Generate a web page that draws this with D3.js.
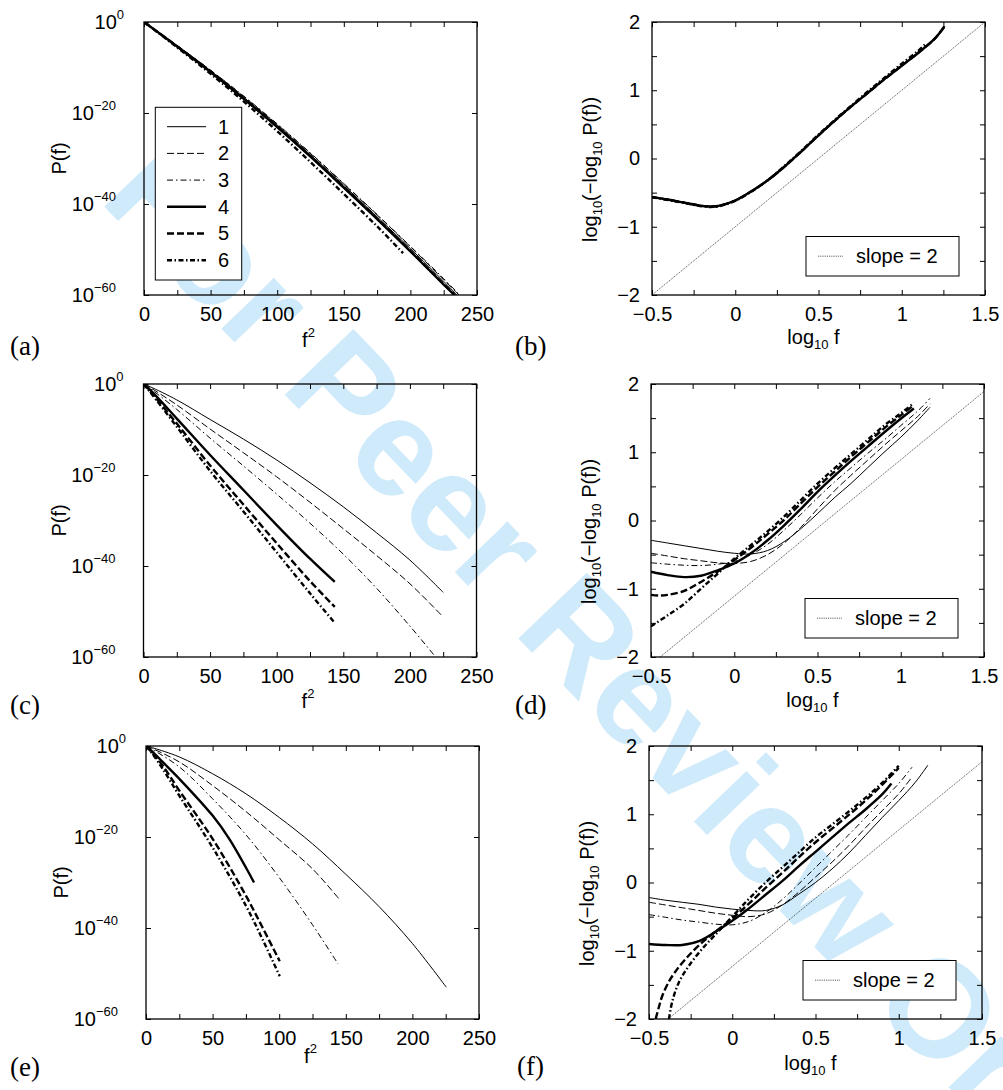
<!DOCTYPE html>
<html>
<head>
<meta charset="utf-8">
<script src="https://cdn.jsdelivr.net/npm/d3@7/dist/d3.min.js"></script>
<style>
  body { margin: 0; background: #fff; }
  svg text { font-family: "Liberation Sans", Arial, Helvetica, sans-serif; fill: #000; }
  .axis text { font-size: 20px; font-family: "Liberation Sans", Arial, Helvetica, sans-serif; }
  .axis line { stroke: #000; stroke-width: 1; }
  .plabel { font-family: "Liberation Serif", "Times New Roman", serif; font-size: 27px; }
  .watermark { font-family: "Liberation Sans", Arial, sans-serif; font-weight: bold; font-size: 138px; fill: #cfeafa !important; }
</style>
</head>
<body>
<svg id="chart" width="1003" height="1090"></svg>
<script>
// series labels used in the legend of panel (a)
const seriesNames = ["1", "2", "3", "4", "5", "6"];

// panel (a): [f^2, log10 P(f)]
const panelA = [
  [[0,0],[25,-5.3],[50,-10.8],[75,-16.6],[100,-22.7],[125,-29.2],[150,-35.9],[175,-42.8],[200,-49.8],[225,-57.0],[235,-60]],
  [[0,0],[25,-5.2],[50,-10.6],[75,-16.4],[100,-22.5],[125,-28.9],[150,-35.6],[175,-42.4],[200,-49.4],[225,-56.6],[236.5,-60]],
  [[0,0],[25,-5.2],[50,-10.6],[75,-16.3],[100,-22.4],[125,-28.8],[150,-35.5],[175,-42.3],[200,-49.3],[225,-56.4],[237,-60]],
  [[0,0],[25,-5.4],[50,-11.0],[75,-16.9],[100,-23.1],[125,-29.6],[150,-36.4],[175,-43.3],[200,-50.4],[225,-57.7],[233,-60]],
  [[0,0],[25,-5.4],[50,-11.0],[75,-16.9],[100,-23.0],[125,-29.5],[150,-36.3],[175,-43.2],[200,-50.3],[225,-57.6],[233.5,-60]],
  [[0,0],[25,-5.6],[50,-11.4],[75,-17.5],[100,-24.0],[125,-30.8],[150,-37.8],[175,-44.9],[194.5,-50.8]]
];

// panel (b): [log10 f, log10(-log10 P(f))]
const panelB = [
  [[-0.5,-0.56],[-0.4,-0.6],[-0.3,-0.645],[-0.2,-0.69],[-0.15,-0.7],[-0.1,-0.69],[0,-0.61],[0.1,-0.47],[0.2,-0.31],[0.3,-0.11],[0.4,0.11],[0.5,0.34],[0.6,0.56],[0.7,0.77],[0.8,0.97],[0.9,1.17],[1.0,1.36],[1.1,1.55],[1.2,1.76],[1.26,1.94]],
  [[-0.5,-0.56],[-0.4,-0.6],[-0.3,-0.645],[-0.2,-0.69],[-0.15,-0.7],[-0.1,-0.69],[0,-0.61],[0.1,-0.47],[0.2,-0.31],[0.3,-0.11],[0.4,0.11],[0.5,0.34],[0.6,0.56],[0.7,0.77],[0.8,0.97],[0.9,1.17],[1.0,1.36],[1.1,1.56],[1.2,1.77],[1.26,1.95]],
  [[-0.5,-0.56],[-0.4,-0.6],[-0.3,-0.645],[-0.2,-0.69],[-0.15,-0.7],[-0.1,-0.69],[0,-0.61],[0.1,-0.47],[0.2,-0.31],[0.3,-0.11],[0.4,0.11],[0.5,0.34],[0.6,0.56],[0.7,0.77],[0.8,0.97],[0.9,1.17],[1.0,1.36],[1.1,1.56],[1.2,1.77],[1.26,1.95]],
  [[-0.5,-0.565],[-0.4,-0.605],[-0.3,-0.65],[-0.2,-0.695],[-0.15,-0.705],[-0.1,-0.695],[0,-0.615],[0.1,-0.475],[0.2,-0.31],[0.3,-0.11],[0.4,0.11],[0.5,0.34],[0.6,0.56],[0.7,0.77],[0.8,0.97],[0.9,1.17],[1.0,1.36],[1.1,1.55],[1.2,1.76],[1.255,1.93]],
  [[-0.5,-0.565],[-0.4,-0.605],[-0.3,-0.65],[-0.2,-0.695],[-0.15,-0.705],[-0.1,-0.695],[0,-0.615],[0.1,-0.475],[0.2,-0.31],[0.3,-0.11],[0.4,0.11],[0.5,0.34],[0.6,0.56],[0.7,0.77],[0.8,0.97],[0.9,1.17],[1.0,1.36],[1.1,1.55],[1.2,1.76],[1.255,1.93]],
  [[-0.5,-0.57],[-0.4,-0.61],[-0.3,-0.655],[-0.2,-0.7],[-0.15,-0.71],[-0.1,-0.7],[0,-0.62],[0.1,-0.48],[0.2,-0.31],[0.3,-0.1],[0.4,0.12],[0.5,0.35],[0.6,0.57],[0.7,0.78],[0.8,0.99],[0.9,1.19],[1.0,1.39],[1.1,1.58],[1.144,1.68]]
];

// panel (c): [f^2, log10 P(f)]
const panelC = [
  [[0,0],[5,-0.6],[25,-3.5],[50,-7.8],[75,-12.1],[100,-16.7],[125,-21.7],[150,-27.0],[175,-32.7],[200,-38.7],[225,-45.8]],
  [[0,0],[5,-0.8],[25,-4.6],[50,-9.9],[75,-15.1],[100,-20.4],[125,-26.0],[150,-31.8],[175,-37.7],[200,-43.9],[225,-51.2]],
  [[0,0],[5,-1.0],[25,-5.6],[50,-11.9],[75,-18.0],[100,-24.2],[125,-30.6],[150,-37.4],[175,-44.9],[200,-53.2],[219.3,-60]],
  [[0,0],[5,-1.3],[25,-7.6],[50,-15.6],[75,-23.3],[100,-31.0],[125,-38.4],[143.6,-43.5]],
  [[0,0],[5,-1.6],[25,-8.7],[50,-17.9],[75,-26.5],[100,-35.0],[125,-43.3],[143.6,-49.0]],
  [[0,0],[5,-1.8],[25,-9.4],[50,-19.1],[75,-28.0],[100,-37.0],[125,-46.0],[143.6,-52.5]]
];

// panel (d): [log10 f, log10(-log10 P(f))]
const panelD = [
  [[-0.5,-0.29],[-0.4,-0.33],[-0.3,-0.37],[-0.2,-0.41],[-0.1,-0.45],[0,-0.48],[0.1,-0.49],[0.2,-0.44],[0.3,-0.31],[0.4,-0.12],[0.5,0.1],[0.6,0.33],[0.7,0.54],[0.8,0.77],[0.9,1.0],[1.0,1.22],[1.1,1.46],[1.176,1.66]],
  [[-0.5,-0.48],[-0.4,-0.52],[-0.3,-0.56],[-0.2,-0.59],[-0.1,-0.62],[0,-0.63],[0.1,-0.6],[0.2,-0.5],[0.3,-0.33],[0.4,-0.1],[0.5,0.17],[0.6,0.43],[0.7,0.66],[0.8,0.88],[0.9,1.1],[1.0,1.31],[1.1,1.52],[1.176,1.71]],
  [[-0.5,-0.62],[-0.4,-0.64],[-0.3,-0.655],[-0.2,-0.66],[-0.1,-0.64],[0,-0.6],[0.1,-0.5],[0.2,-0.35],[0.3,-0.14],[0.4,0.09],[0.5,0.33],[0.6,0.56],[0.7,0.77],[0.8,0.98],[0.9,1.18],[1.0,1.39],[1.1,1.6],[1.176,1.79]],
  [[-0.5,-0.75],[-0.4,-0.8],[-0.3,-0.83],[-0.2,-0.81],[-0.1,-0.73],[0,-0.63],[0.1,-0.48],[0.2,-0.29],[0.3,-0.07],[0.4,0.17],[0.5,0.42],[0.6,0.65],[0.7,0.87],[0.8,1.08],[0.9,1.29],[1.0,1.49],[1.079,1.64]],
  [[-0.5,-1.09],[-0.45,-1.1],[-0.4,-1.09],[-0.3,-1.03],[-0.2,-0.9],[-0.1,-0.75],[0,-0.58],[0.1,-0.4],[0.2,-0.2],[0.3,0.01],[0.4,0.25],[0.5,0.49],[0.6,0.71],[0.7,0.93],[0.8,1.14],[0.9,1.35],[1.0,1.54],[1.079,1.69]],
  [[-0.5,-1.55],[-0.4,-1.39],[-0.3,-1.22],[-0.2,-1.0],[-0.1,-0.78],[0,-0.56],[0.1,-0.36],[0.2,-0.16],[0.3,0.06],[0.4,0.3],[0.5,0.54],[0.6,0.76],[0.7,0.97],[0.8,1.18],[0.9,1.39],[1.0,1.57],[1.079,1.72]]
];

// panel (e): [f^2, log10 P(f)]
const panelE = [
  [[0,0],[5,-0.4],[25,-2.4],[50,-6.1],[75,-10.5],[100,-15.7],[125,-21.5],[150,-28.2],[175,-35.3],[200,-43.4],[225.4,-53.0]],
  [[0,0],[5,-0.6],[25,-3.5],[50,-8.7],[75,-14.4],[100,-20.6],[125,-27.0],[144.6,-33.5]],
  [[0,0],[5,-0.8],[25,-4.6],[50,-11.6],[75,-19.5],[100,-28.9],[125,-39.3],[144.2,-47.9]],
  [[0,0],[5,-1.3],[12.5,-3.5],[25,-7.2],[50,-15.3],[62.5,-20.4],[75,-26.7],[81.1,-30.0]],
  [[0,0],[5,-1.6],[12.5,-4.3],[25,-9.8],[50,-20.4],[75,-32.9],[87.5,-39.9],[100.4,-47.3]],
  [[0,0],[5,-1.8],[12.5,-5.0],[25,-10.9],[50,-22.3],[75,-35.1],[87.5,-42.5],[100.4,-50.6]]
];

// panel (f): [log10 f, log10(-log10 P(f))]
const panelF = [
  [[-0.5,-0.22],[-0.4,-0.26],[-0.3,-0.29],[-0.2,-0.32],[-0.1,-0.36],[0,-0.39],[0.1,-0.41],[0.2,-0.41],[0.3,-0.33],[0.4,-0.17],[0.5,0.0],[0.6,0.2],[0.7,0.43],[0.8,0.69],[0.9,0.95],[1.0,1.2],[1.1,1.47],[1.175,1.72]],
  [[-0.5,-0.29],[-0.4,-0.33],[-0.3,-0.37],[-0.2,-0.41],[-0.1,-0.45],[0,-0.48],[0.1,-0.5],[0.2,-0.46],[0.3,-0.33],[0.4,-0.14],[0.5,0.08],[0.6,0.3],[0.7,0.54],[0.8,0.8],[0.9,1.05],[1.0,1.3],[1.081,1.55]],
  [[-0.5,-0.47],[-0.4,-0.51],[-0.3,-0.55],[-0.2,-0.58],[-0.1,-0.61],[0,-0.62],[0.1,-0.57],[0.2,-0.44],[0.3,-0.25],[0.4,-0.02],[0.5,0.22],[0.6,0.46],[0.7,0.7],[0.8,0.95],[0.9,1.2],[1.0,1.45],[1.08,1.69]],
  [[-0.5,-0.9],[-0.4,-0.915],[-0.3,-0.915],[-0.2,-0.86],[-0.1,-0.72],[0,-0.56],[0.1,-0.38],[0.2,-0.18],[0.3,0.02],[0.4,0.24],[0.5,0.45],[0.6,0.66],[0.7,0.87],[0.8,1.07],[0.9,1.29],[0.956,1.45]],
  [[-0.46,-2.0],[-0.44,-1.82],[-0.42,-1.66],[-0.38,-1.45],[-0.34,-1.3],[-0.28,-1.12],[-0.2,-0.92],[-0.1,-0.72],[0,-0.53],[0.1,-0.31],[0.2,-0.08],[0.3,0.14],[0.4,0.37],[0.5,0.59],[0.6,0.79],[0.7,0.99],[0.8,1.2],[0.9,1.43],[1.0,1.68]],
  [[-0.38,-2.0],[-0.36,-1.74],[-0.32,-1.46],[-0.26,-1.22],[-0.18,-0.97],[-0.1,-0.76],[0,-0.5],[0.1,-0.24],[0.2,0.0],[0.3,0.22],[0.4,0.44],[0.5,0.66],[0.6,0.85],[0.7,1.04],[0.8,1.24],[0.9,1.46],[1.0,1.71]]
];

// reference lines of slope 2 in the scaling panels
const slopeB = [[-0.5, -2], [1.5, 2]];
const slopeD = [[-0.445, -2], [1.5, 1.89]];
const slopeF = [[-0.385, -2], [1.5, 1.77]];

// ticks
const distXTicks = [0, 25, 50, 75, 100, 125, 150, 175, 200, 225, 250];
const distYExponents = [0, -20, -40, -60];
const scaleXTicks = [-0.5, -0.25, 0, 0.25, 0.5, 0.75, 1, 1.25, 1.5];
const scaleYTicks = [-2, -1.5, -1, -0.5, 0, 0.5, 1, 1.5, 2];

// line styles for the six series: thin solid, dashed, dash-dot, then the thick ones
const lineStyles = [
  { width: 1.0, dash: null },
  { width: 1.0, dash: "7,3" },
  { width: 1.0, dash: "6,3,1.5,3" },
  { width: 2.4, dash: null },
  { width: 2.4, dash: "7,3" },
  { width: 2.4, dash: "5,2.5,1.5,2.5" }
];

const W = 333, H = 273;
const fmt = d3.format("~g");
const svg = d3.select("#chart");

// watermark sits below all plot ink
svg.append("text")
  .attr("class", "watermark")
  .attr("transform", "translate(98,200) rotate(46.2)")
  .text("For Peer Review Only");

function drawTicks(g, x, y, xTicks, yTicks, xLabel, yLabel) {
  g.append("g").attr("class", "axis").attr("transform", `translate(0,${H})`)
    .call(d3.axisBottom(x).tickValues(xTicks).tickSizeInner(-5).tickSizeOuter(0).tickPadding(12)
      .tickFormat(d => xLabel(d) ? fmt(d) : ""));
  g.append("g").attr("class", "axis")
    .call(d3.axisTop(x).tickValues(xTicks).tickSizeInner(-5).tickSizeOuter(0).tickFormat(""));
  g.append("g").attr("class", "axis")
    .call(d3.axisLeft(y).tickValues(yTicks).tickSizeInner(-5).tickSizeOuter(0).tickPadding(12)
      .tickFormat(d => yLabel(d) ? fmt(d) : ""));
  g.append("g").attr("class", "axis").attr("transform", `translate(${W},0)`)
    .call(d3.axisRight(y).tickValues(yTicks).tickSizeInner(-5).tickSizeOuter(0).tickFormat(""));
  g.selectAll(".axis .domain").remove();
}

function drawCurves(g, id, series, line) {
  g.append("clipPath").attr("id", "clip-" + id)
    .append("rect").attr("width", W).attr("height", H);
  g.append("g").attr("clip-path", `url(#clip-${id})`)
    .selectAll("path")
    .data(series)
    .join("path")
    .attr("d", line)
    .attr("fill", "none")
    .attr("stroke", "#000")
    .attr("stroke-width", (d, i) => lineStyles[i].width)
    .attr("stroke-dasharray", (d, i) => lineStyles[i].dash);
}

function frame(g) {
  g.append("rect").attr("width", W).attr("height", H)
    .attr("fill", "none").attr("stroke", "#000").attr("stroke-width", 1.3);
}

// P(f) against f^2 on a log axis
function distPanel(left, top, id, series, opts) {
  const g = svg.append("g").attr("transform", `translate(${left},${top})`);
  const x = d3.scaleLinear().domain([0, 250]).range([0, W]);
  const y = d3.scaleLog().domain([1e-60, 1]).range([H, 0]);

  drawTicks(g, x, y, distXTicks, distYExponents.map(e => Math.pow(10, e)),
    d => d % 50 === 0, () => false);

  // 10^n labels with superscripts
  distYExponents.forEach(e => {
    const t = g.append("text")
      .attr("x", e === 0 ? -20 : -28)
      .attr("y", y(Math.pow(10, e)))
      .attr("dy", "0.35em")
      .attr("text-anchor", "end")
      .style("font-size", "20px");
    t.append("tspan").text("10");
    t.append("tspan").attr("dy", -10).style("font-size", "13px").text(fmt(e));
  });

  const line = d3.line()
    .x(d => x(d[0]))
    .y(d => y(Math.pow(10, d[1])))
    .curve(d3.curveCatmullRom.alpha(0.5));
  drawCurves(g, id, series, line);
  frame(g);

  const xl = g.append("text").attr("x", W / 2 - 2).attr("y", H + opts.xLabelGap)
    .attr("text-anchor", "middle").style("font-size", "20px");
  xl.append("tspan").text("f");
  xl.append("tspan").attr("dy", -10).style("font-size", "13px").text("2");

  g.append("text")
    .attr("transform", `translate(-78,${H / 2}) rotate(-90)`)
    .attr("text-anchor", "middle").style("font-size", "20px")
    .text("P(f)");
  return g;
}

// log10(-log10 P) against log10 f, with the slope-2 guide
function scalePanel(left, top, id, series, slope, opts) {
  const g = svg.append("g").attr("transform", `translate(${left},${top})`);
  const x = d3.scaleLinear().domain([-0.5, 1.5]).range([0, W]);
  const y = d3.scaleLinear().domain([-2, 2]).range([H, 0]);

  drawTicks(g, x, y, scaleXTicks, scaleYTicks,
    d => Math.abs(d * 2 - Math.round(d * 2)) < 1e-9, d => Number.isInteger(d));

  const line = d3.line()
    .x(d => x(d[0]))
    .y(d => y(d[1]))
    .curve(d3.curveCatmullRom.alpha(0.5));

  g.append("path")
    .attr("d", d3.line().x(d => x(d[0])).y(d => y(d[1]))(slope))
    .attr("fill", "none").attr("stroke", "#333")
    .attr("stroke-width", 0.8).attr("stroke-dasharray", "1.2,1");

  drawCurves(g, id, series, line);
  frame(g);

  // legend box for the guide line
  const lg = g.append("g").attr("transform", `translate(${W - 179},${H - 58.5})`);
  lg.append("rect").attr("width", 153).attr("height", 39.5)
    .attr("fill", "#fff").attr("stroke", "#000").attr("stroke-width", 1);
  lg.append("line").attr("x1", 12).attr("x2", 37).attr("y1", 19.7).attr("y2", 19.7)
    .attr("stroke", "#333").attr("stroke-width", 0.8).attr("stroke-dasharray", "1.2,1");
  lg.append("text").attr("x", 50).attr("y", 19.7).attr("dy", "0.35em")
    .style("font-size", "20px").text("slope = 2");

  const xl = g.append("text").attr("x", W / 2 - 5).attr("y", H + opts.xLabelGap)
    .attr("text-anchor", "middle").style("font-size", "20px");
  xl.append("tspan").text("log");
  xl.append("tspan").attr("dy", 5).style("font-size", "13px").text("10");
  xl.append("tspan").attr("dy", -5).text("\u00a0f");

  const yl = g.append("text")
    .attr("transform", `translate(-55,${H / 2 + 11}) rotate(-90)`)
    .attr("text-anchor", "middle").style("font-size", "20px");
  yl.append("tspan").text("log");
  yl.append("tspan").attr("dy", 5).style("font-size", "13px").text("10");
  yl.append("tspan").attr("dy", -5).text("(\u2212log");
  yl.append("tspan").attr("dy", 5).style("font-size", "13px").text("10");
  yl.append("tspan").attr("dy", -5).text("\u00a0P(f))");
  return g;
}

const gA = distPanel(144, 22, "a", panelA, { xLabelGap: 52 });
scalePanel(652, 22, "b", panelB, slopeB, { xLabelGap: 49 });
distPanel(143.5, 384, "c", panelC, { xLabelGap: 51 });
scalePanel(651, 384, "d", panelD, slopeD, { xLabelGap: 50 });
distPanel(146, 746, "e", panelE, { xLabelGap: 44 });
scalePanel(649, 746, "f", panelF, slopeF, { xLabelGap: 51 });

// legend of the six series in panel (a)
const legA = gA.append("g").attr("transform", "translate(11.3,85.3)");
legA.append("rect").attr("width", 86.4).attr("height", 172.7)
  .attr("fill", "#fff").attr("stroke", "#000").attr("stroke-width", 1);
seriesNames.forEach((name, i) => {
  const yy = 19.4 + i * 26.7;
  legA.append("line").attr("x1", 11.7).attr("x2", 50.7).attr("y1", yy).attr("y2", yy)
    .attr("stroke", "#000")
    .attr("stroke-width", lineStyles[i].width)
    .attr("stroke-dasharray", lineStyles[i].dash);
  legA.append("text").attr("x", 62.7).attr("y", yy).attr("dy", "0.35em")
    .style("font-size", "20px").text(name);
});

// panel letters
const panelLetters = [
  { t: "(a)", x: 10, y: 355 }, { t: "(b)", x: 515, y: 355 },
  { t: "(c)", x: 10, y: 714 }, { t: "(d)", x: 515, y: 714 },
  { t: "(e)", x: 10, y: 1076 }, { t: "(f)", x: 517, y: 1075 }
];
svg.selectAll(".plabel").data(panelLetters).join("text")
  .attr("class", "plabel")
  .attr("x", d => d.x).attr("y", d => d.y)
  .text(d => d.t);
</script>
</body>
</html>
